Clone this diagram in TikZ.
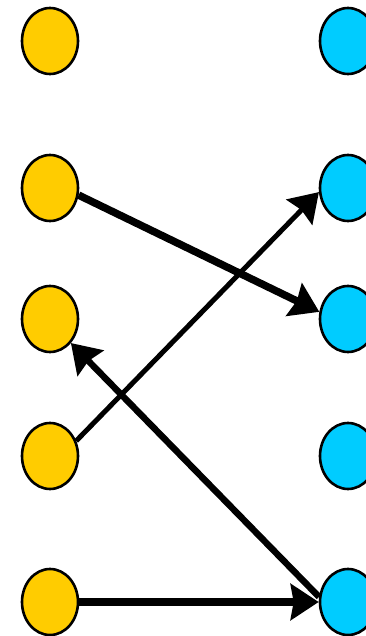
\documentclass[tikz,border=0pt]{standalone}
\usetikzlibrary{shapes.geometric,arrows.meta}
\definecolor{dotyellow}{RGB}{255,204,0}
\definecolor{dotblue}{RGB}{0,204,255}
\begin{document}
\begin{tikzpicture}[x=1pt,y=-1pt,
  dot/.style={ellipse,draw=black,line width=2.6pt,minimum width=56pt,minimum height=66pt,inner sep=0pt},
  ldot/.style={dot,fill=dotyellow},
  rdot/.style={dot,fill=dotblue},
  conn/.style={-{Stealth[length=28pt,width=36pt,inset=3pt]},draw=black}]
\useasboundingbox (0,0) rectangle (366,636);
\node[ldot] (L1) at (50,41) {};
\node[ldot] (L2) at (50,188) {};
\node[ldot] (L3) at (50,319) {};
\node[ldot] (L4) at (50,456) {};
\node[ldot] (L5) at (50,602) {};
\node[rdot] (R1) at (348,41) {};
\node[rdot] (R2) at (348,188) {};
\node[rdot] (R3) at (348,319) {};
\node[rdot] (R4) at (348,456) {};
\node[rdot] (R5) at (348,602) {};
\draw[conn,line width=7.5pt] (L2.-14) -- (R3.166);
\draw[conn,line width=5pt] (L4.30) -- (R2.188);
\draw[conn,line width=6.5pt] (R5.170) -- (L3.-49);
\draw[conn,line width=8.5pt] (L5) -- (R5);
\end{tikzpicture}
\end{document}
